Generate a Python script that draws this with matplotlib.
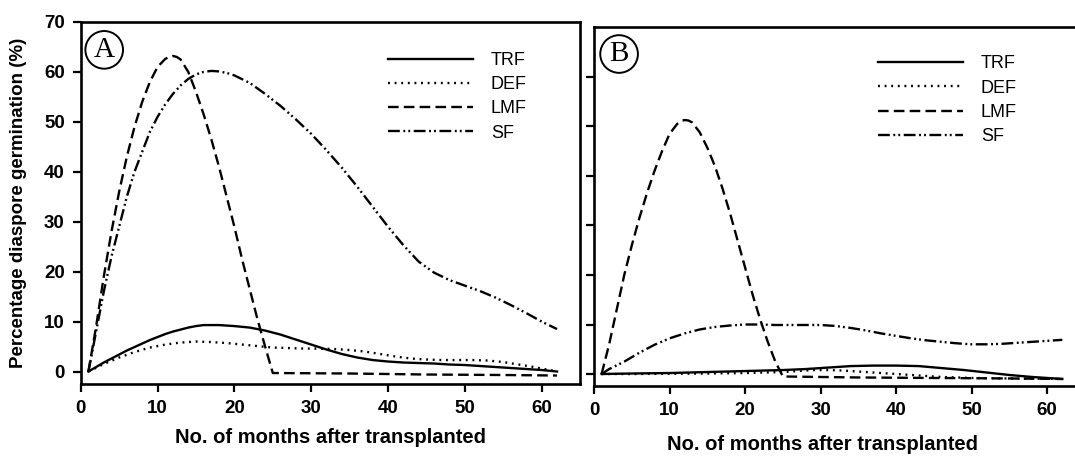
import matplotlib
matplotlib.use("Agg")
import matplotlib.pyplot as plt

plt.rcParams["font.family"] = ["Liberation Sans", "DejaVu Sans"]

series_names = ["TRF", "DEF", "LMF", "SF"]

# Panel A readings (months, % germination)
a_trf_x = [1, 2, 3, 4, 5, 6, 7, 8, 9, 10, 11, 12, 13, 14, 15, 16, 17, 18, 19, 20, 22, 24, 26, 28, 30,
           32, 34, 36, 38, 40, 42, 44, 46, 48, 50, 52, 54, 56, 58, 60, 62]
a_trf_y = [0, 0.9, 1.8, 2.6, 3.4, 4.2, 4.9, 5.6, 6.3, 6.9, 7.5, 8.0, 8.4, 8.8, 9.1, 9.3, 9.3, 9.3, 9.2, 9.1,
           8.8, 8.2, 7.4, 6.4, 5.4, 4.4, 3.5, 2.8, 2.3, 2.0, 1.8, 1.7, 1.6, 1.4, 1.3, 1.1, 0.9, 0.7, 0.5, 0.3, 0]
a_def_x = [1, 3, 5, 7, 9, 11, 13, 15, 17, 19, 21, 23, 25, 27, 29, 31, 33, 35, 37, 39, 41, 43, 45, 47, 49,
           51, 53, 55, 57, 59, 62]
a_def_y = [0, 1.5, 2.8, 3.9, 4.8, 5.4, 5.8, 6.0, 5.9, 5.7, 5.4, 5.1, 4.8, 4.7, 4.6, 4.6, 4.5, 4.3, 4.0,
           3.5, 3.0, 2.6, 2.4, 2.3, 2.3, 2.3, 2.2, 1.9, 1.4, 0.9, 0]
a_lmf_x = [1, 2, 3, 4, 5, 6, 7, 8, 9, 10, 11, 11.5, 12, 12.5, 13, 14, 15, 16, 17, 18, 19, 20, 21, 22, 23,
           24, 25, 35, 45, 55, 62]
a_lmf_y = [0, 9, 19, 28, 36, 43, 49, 54, 58, 61, 62.6, 63.0, 63.2, 63.0, 62.5, 60, 56, 51.5, 46.5, 41, 35,
           29, 22.5, 16.5, 10.5, 5, -0.3, -0.4, -0.6, -0.7, -0.8]
a_sf_x = [1, 2, 3, 4, 5, 6, 7, 8, 9, 10, 11, 12, 13, 14, 15, 16, 17, 18, 19, 20, 22, 24, 26, 28, 30, 32,
          34, 36, 38, 40, 42, 44, 46, 48, 50, 52, 54, 56, 58, 60, 62]
a_sf_y = [0, 8, 16, 23, 29, 35, 40, 44, 48, 51, 53.5, 55.6, 57.3, 58.6, 59.5, 60.0, 60.2, 60.1, 59.8, 59.3,
          57.8, 55.6, 53.2, 50.5, 47.6, 44.3, 40.8, 37, 33, 29, 25.3, 22, 19.8, 18.3, 17.2, 16.1, 14.8,
          13.3, 11.7, 10, 8.5]

# Panel B readings
b_trf_x = [1, 5, 10, 15, 20, 25, 28, 31, 34, 37, 40, 43, 46, 49, 52, 55, 58, 62]
b_trf_y = [0, 0.1, 0.2, 0.4, 0.6, 0.8, 1.0, 1.3, 1.6, 1.7, 1.7, 1.6, 1.2, 0.8, 0.3, -0.2, -0.6, -1.0]
b_def_x = [1, 5, 10, 15, 20, 25, 27, 29, 31, 33, 35, 37, 40, 43, 46, 50, 55, 62]
b_def_y = [0, 0, 0.05, 0.1, 0.2, 0.4, 0.6, 0.8, 0.8, 0.7, 0.5, 0.3, 0, -0.3, -0.6, -0.8, -0.9, -1.0]
b_lmf_x = [1, 2, 3, 4, 5, 6, 7, 8, 9, 10, 11, 11.5, 12, 12.5, 13, 14, 15, 16, 17, 18, 19, 20, 21, 22, 23,
           24, 25, 35, 45, 55, 62]
b_lmf_y = [0, 6, 13, 20, 26, 31.5, 36.5, 41, 45, 48.5, 50.5, 51.1, 51.3, 51.2, 50.8, 48.8, 45.7, 42, 37.5,
           32.5, 27, 21.5, 16, 11, 6.5, 2.5, -0.5, -0.7, -0.8, -0.9, -1.0]
b_sf_x = [1, 2, 4, 6, 8, 10, 12, 14, 16, 18, 20, 22, 24, 26, 28, 30, 32, 34, 36, 38, 40, 42, 44, 46,
          48, 50, 52, 54, 56, 58, 60, 62]
b_sf_y = [0, 1.0, 2.5, 4.3, 5.9, 7.2, 8.2, 9.0, 9.5, 9.8, 10.0, 10.0, 9.9, 9.9, 9.9, 9.9, 9.7, 9.3, 8.8,
          8.2, 7.7, 7.2, 6.8, 6.5, 6.2, 6.0, 6.0, 6.1, 6.3, 6.5, 6.7, 6.9]

x_ticks = [0, 10, 20, 30, 40, 50, 60]
y_ticks = [0, 10, 20, 30, 40, 50, 60, 70]

styles = {
    "TRF": dict(linestyle="-"),
    "DEF": dict(linestyle=(0, (0.8, 2.0))),
    "LMF": dict(linestyle=(0, (4.5, 2.2))),
    "SF": dict(linestyle=(0, (5, 1.5, 0.8, 1.3, 0.8, 1.5))),
}

fig = plt.figure(figsize=(10.75, 4.59), dpi=100)
ax_a = fig.add_axes([0.0751, 0.1634, 0.4645, 0.7887])
ax_b = fig.add_axes([0.5526, 0.1582, 0.4567, 0.7820])

panels = [
    (ax_a, "A", (0.047, 0.923), (0.615, 0.917),
     [(a_trf_x, a_trf_y), (a_def_x, a_def_y), (a_lmf_x, a_lmf_y), (a_sf_x, a_sf_y)]),
    (ax_b, "B", (0.051, 0.926), (0.578, 0.922),
     [(b_trf_x, b_trf_y), (b_def_x, b_def_y), (b_lmf_x, b_lmf_y), (b_sf_x, b_sf_y)]),
]

for ax, tag, tag_pos, leg_pos, data in panels:
    for name, (xs, ys) in zip(series_names, data):
        ax.plot(xs, ys, color="black", lw=1.7, label=name, **styles[name])
    ax.set_xlim(0, 65)
    ax.set_ylim(-2.5, 70)
    ax.set_xticks(x_ticks)
    ax.set_yticks(y_ticks)
    ax.tick_params(direction="out", length=5.5, width=1.6, labelsize=13.5)
    ax.tick_params(axis="x", pad=6)
    ax.tick_params(axis="y", pad=6)
    for lab in ax.get_xticklabels() + ax.get_yticklabels():
        lab.set_fontweight("bold")
    for sp in ax.spines.values():
        sp.set_linewidth(1.9)
    ax.text(tag_pos[0], tag_pos[1], tag, transform=ax.transAxes, ha="center", va="center",
            fontsize=21, family="Liberation Serif",
            bbox=dict(boxstyle="circle,pad=0.2", fc="white", ec="black", lw=1.4))
    ax.legend(loc="upper left", bbox_to_anchor=leg_pos, frameon=False, borderpad=0,
              borderaxespad=0, handlelength=4.7, fontsize=13, labelspacing=0.4,
              handletextpad=1.0)

ax_a.set_xlabel("No. of months after transplanted", fontsize=14.5, fontweight="bold", labelpad=8)
ax_b.set_xlabel("No. of months after transplanted", fontsize=14.5, fontweight="bold", labelpad=11)
ax_b.xaxis.label.set_x(0.466)

ax_b.set_yticks(y_ticks[:-1])
ax_b.set_yticklabels([])
ax_b.set_ylim(-2.5, 70)
ax_a.set_ylabel("Percentage diaspore germination (%)", fontsize=13.5, fontweight="bold", labelpad=12)

fig.savefig("out.png", dpi=100)
